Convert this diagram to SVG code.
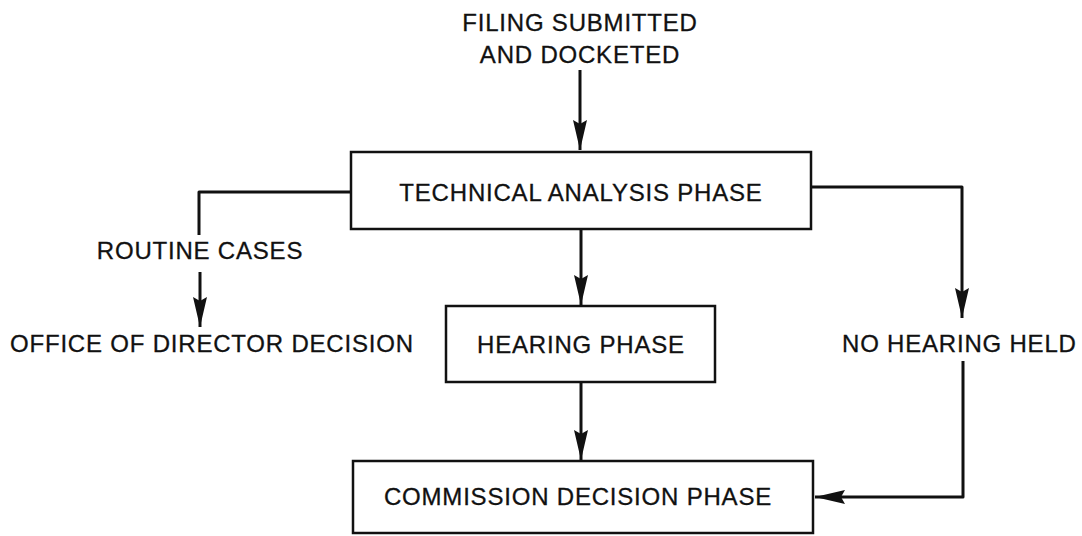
<svg xmlns="http://www.w3.org/2000/svg" width="1082" height="536" viewBox="0 0 1082 536">
<defs>
<style>
.box{fill:#fff;stroke:#111;stroke-width:2.5}
.lbl{font-family:"Liberation Sans",Arial,sans-serif;font-size:24px;letter-spacing:0.8px;fill:#111;stroke:#111;stroke-width:0.3}
.mid{text-anchor:middle}
.con{fill:none;stroke:#111;stroke-width:3;stroke-linejoin:round}
</style>
<marker id="ah" markerUnits="userSpaceOnUse" markerWidth="32" markerHeight="16" refX="30" refY="7" orient="auto" viewBox="0 0 32 16">
<path d="M0,0 L30,7 L0,14 L4,7 z" fill="#111"/>
</marker>
</defs>
<rect width="1082" height="536" fill="#fff"/>
<g id="start">
<text class="lbl mid" x="580" y="31">FILING SUBMITTED</text>
<text class="lbl mid" x="580" y="63">AND DOCKETED</text>
</g>
<g id="technical">
<rect class="box" x="351" y="152" width="460" height="77"/>
<text class="lbl mid" x="581" y="201">TECHNICAL ANALYSIS PHASE</text>
</g>
<g id="routine">
<text class="lbl mid" x="200" y="259">ROUTINE CASES</text>
</g>
<g id="office">
<text class="lbl" x="10" y="352">OFFICE OF DIRECTOR DECISION</text>
</g>
<g id="hearing">
<rect class="box" x="446" y="306" width="269" height="76"/>
<text class="lbl mid" x="581" y="353">HEARING PHASE</text>
</g>
<g id="nohearing">
<text class="lbl" x="842" y="352">NO HEARING HELD</text>
</g>
<g id="commission">
<rect class="box" x="353" y="461" width="460" height="72"/>
<text class="lbl mid" x="578" y="505">COMMISSION DECISION PHASE</text>
</g>
<g id="connectors">
<path class="con" d="M580,70 V150" marker-end="url(#ah)"/>
<path class="con" d="M351,192 H199 V235"/>
<path class="con" d="M200,272 V327" marker-end="url(#ah)"/>
<path class="con" d="M581,229 V305" marker-end="url(#ah)"/>
<path class="con" d="M581,382 V460" marker-end="url(#ah)"/>
<path class="con" d="M811,187 H962 V318" marker-end="url(#ah)"/>
<path class="con" d="M963,361 V497 H815" marker-end="url(#ah)"/>
</g>
</svg>
